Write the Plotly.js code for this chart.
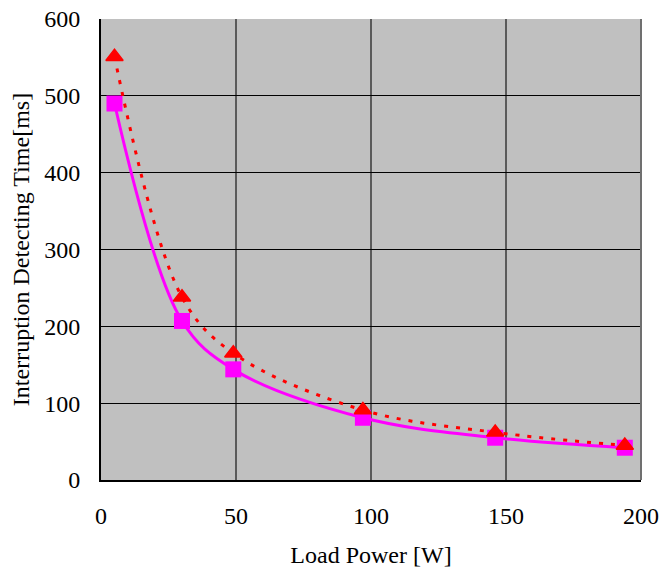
<!DOCTYPE html>
<html><head><meta charset="utf-8">
<script src="https://cdn.plot.ly/plotly-3.0.1.min.js"></script>
<style>html,body{margin:0;padding:0;background:#fff}</style>
</head><body><div id="chart" style="width:662px;height:572px"></div>
<script>
const loadPower = [5, 30, 49, 97, 146, 194];
const timeTriangle = [551, 238, 165, 91, 62, 45];
const timeSquare = [490, 207, 144, 81, 55, 42];
const xTicks = [0, 50, 100, 150, 200];
const yTicks = [0, 100, 200, 300, 400, 500, 600];

const traces = [
  {x: loadPower, y: timeSquare, mode: 'lines+markers', type: 'scatter',
   line: {color: '#ff00ff', width: 3, shape: 'spline'},
   marker: {symbol: 'square', size: 16, color: '#ff00ff'}},
  {x: loadPower, y: timeTriangle, mode: 'lines+markers', type: 'scatter',
   line: {color: '#ff0000', width: 3, dash: '4px,8px', shape: 'spline'},
   marker: {symbol: 'triangle-up', size: 15, color: '#ff0000', line: {color: '#ff0000', width: 1.5}}}
];
const font = {family: '"Liberation Serif", "Times New Roman", serif', size: 24, color: '#000'};
const layout = {
  width: 662, height: 572,
  margin: {l: 101, r: 21, t: 19, b: 92},
  paper_bgcolor: '#fff', plot_bgcolor: '#c0c0c0',
  showlegend: false, font: font,
  xaxis: {range: [0, 200], tickvals: xTicks, showgrid: true, gridcolor: '#5a5a5a', gridwidth: 2,
    zeroline: false, showline: true, linecolor: '#000', linewidth: 2, mirror: false,
    ticks: 'outside', ticklen: 13, tickcolor: 'rgba(0,0,0,0)', tickfont: font,
    title: {text: 'Load Power [W]', font: font, standoff: 18}},
  yaxis: {range: [0, 600], tickvals: yTicks, showgrid: true, gridcolor: '#000', gridwidth: 1,
    zeroline: false, showline: true, linecolor: '#000', linewidth: 2,
    ticks: 'outside', ticklen: 14, tickcolor: 'rgba(0,0,0,0)', tickfont: font,
    title: {text: 'Interruption Detecting Time[ms]', font: font, standoff: 8}},
  shapes: [{type: 'line', xref: 'paper', yref: 'paper', x0: 1, x1: 1, y0: 0, y1: 1,
    line: {color: '#707070', width: 2}}]
};
Plotly.newPlot('chart', traces, layout, {displayModeBar: false, staticPlot: true});
</script></body></html>
